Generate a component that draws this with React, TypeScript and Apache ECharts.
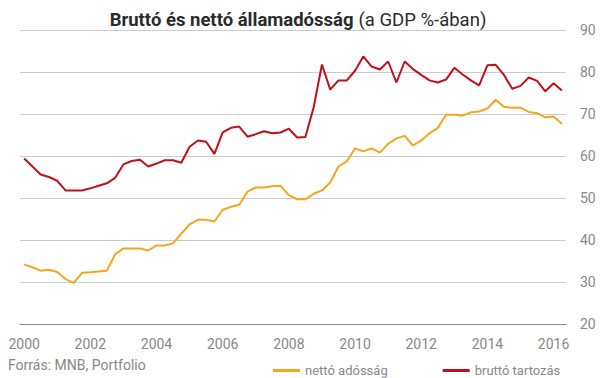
import React, { useEffect, useRef } from "react";
import * as echarts from "echarts";

const years = ["2000","2001","2002","2003","2004","2005","2006","2007","2008","2009","2010","2011","2012","2013","2014","2015","2016"];
const quarters = ["Q1", "Q2", "Q3", "Q4"];
const categories: string[] = [];
years.forEach((y) => quarters.forEach((q) => categories.push(y + " " + q)));
const cats = categories.slice(0, 66);

const nettoAdossag = [
  34.2, 33.5, 32.7, 32.9, 32.4, 30.7, 29.8, 32.2, 32.3, 32.5, 32.7, 36.6, 38.0, 38.0, 38.0, 37.5,
  38.7, 38.7, 39.2, 41.5, 43.7, 44.8, 44.8, 44.4, 47.2, 47.9, 48.4, 51.5, 52.5, 52.5, 52.8, 52.9,
  50.7, 49.7, 49.7, 51.0, 51.8, 53.7, 57.5, 58.7, 61.8, 61.1, 61.8, 60.8, 62.9, 64.2, 64.8, 62.5,
  63.7, 65.4, 66.7, 69.8, 69.8, 69.6, 70.4, 70.6, 71.3, 73.4, 71.7, 71.5, 71.5, 70.5, 70.2, 69.2,
  69.4, 67.7,
];

const bruttoTartozas = [
  59.4, 57.5, 55.6, 55.0, 54.1, 51.8, 51.8, 51.8, 52.3, 52.9, 53.5, 54.8, 58.0, 58.8, 59.1, 57.5,
  58.2, 59.0, 59.0, 58.4, 62.2, 63.7, 63.4, 60.5, 65.6, 66.7, 67.0, 64.6, 65.2, 65.9, 65.4, 65.6,
  66.5, 64.4, 64.5, 71.6, 81.8, 75.8, 78.0, 78.0, 80.3, 83.7, 81.3, 80.6, 82.5, 77.5, 82.5, 80.7,
  79.3, 78.0, 77.5, 78.2, 81.0, 79.4, 78.0, 76.8, 81.6, 81.7, 79.3, 76.0, 76.7, 78.7, 77.9, 75.4,
  77.3, 75.6,
];

const yTicks = { min: 20, max: 90, interval: 10 };

export default function App() {
  const ref = useRef<HTMLDivElement>(null);
  useEffect(() => {
    if (!ref.current) return;
    const chart = echarts.init(ref.current, null, { renderer: "svg" });
    const font = "Roboto, 'Noto Sans', sans-serif";
    chart.setOption({
      animation: false,
      backgroundColor: "#ffffff",
      title: {
        text: "{b|Bruttó és nettó államadósság} {r|(a GDP %-ában)}",
        left: 293,
        top: 5,
        textAlign: "center",
        textStyle: {
          rich: {
            b: { fontFamily: font, fontSize: 18.5, fontWeight: "bold", color: "#2b2b2b" },
            r: { fontFamily: font, fontSize: 18.5, fontWeight: "normal", color: "#2b2b2b" },
          },
        },
      },
      graphic: [
        {
          type: "text",
          left: 8,
          top: 358,
          style: { text: "Forrás: MNB, Portfolio", fontFamily: font, fontSize: 14, fill: "#888888" },
        },
      ],
      legend: {
        left: 268,
        top: 359,
        icon: "rect",
        itemWidth: 27,
        itemHeight: 3,
        itemGap: 55,
        textStyle: { fontFamily: font, fontSize: 13, color: "#888888", padding: [0, 0, 0, 0] },
        data: ["nettó adósság", "bruttó tartozás"],
      },
      grid: { left: 20, right: 39, top: 30, bottom: 54, containLabel: false },
      xAxis: {
        type: "category",
        data: cats,
        boundaryGap: true,
        axisTick: { show: false },
        axisLine: { lineStyle: { color: "#888888", width: 1 } },
        axisLabel: {
          interval: 7,
          margin: 13,
          fontFamily: font,
          fontSize: 14,
          color: "#888888",
          formatter: (v: string) => v.split(" ")[0],
        },
        splitLine: { show: false },
      },
      yAxis: {
        type: "value",
        position: "right",
        min: yTicks.min,
        max: yTicks.max,
        interval: yTicks.interval,
        axisLine: { show: false },
        axisTick: { show: false },
        axisLabel: { margin: 14, fontFamily: font, fontSize: 14, color: "#888888" },
        splitLine: { lineStyle: { color: "#cccccc", width: 1 } },
      },
      series: [
        {
          name: "nettó adósság",
          type: "line",
          data: nettoAdossag,
          showSymbol: false,
          symbol: "none",
          lineStyle: { color: "#f9a51b", width: 2 },
          itemStyle: { color: "#f9a51b" },
        },
        {
          name: "bruttó tartozás",
          type: "line",
          data: bruttoTartozas,
          showSymbol: false,
          symbol: "none",
          lineStyle: { color: "#c0101a", width: 2 },
          itemStyle: { color: "#c0101a" },
        },
      ],
    });
    return () => chart.dispose();
  }, []);
  return <div ref={ref} style={{ width: 605, height: 378, position: "absolute", left: 0, top: 0 }} />;
}
